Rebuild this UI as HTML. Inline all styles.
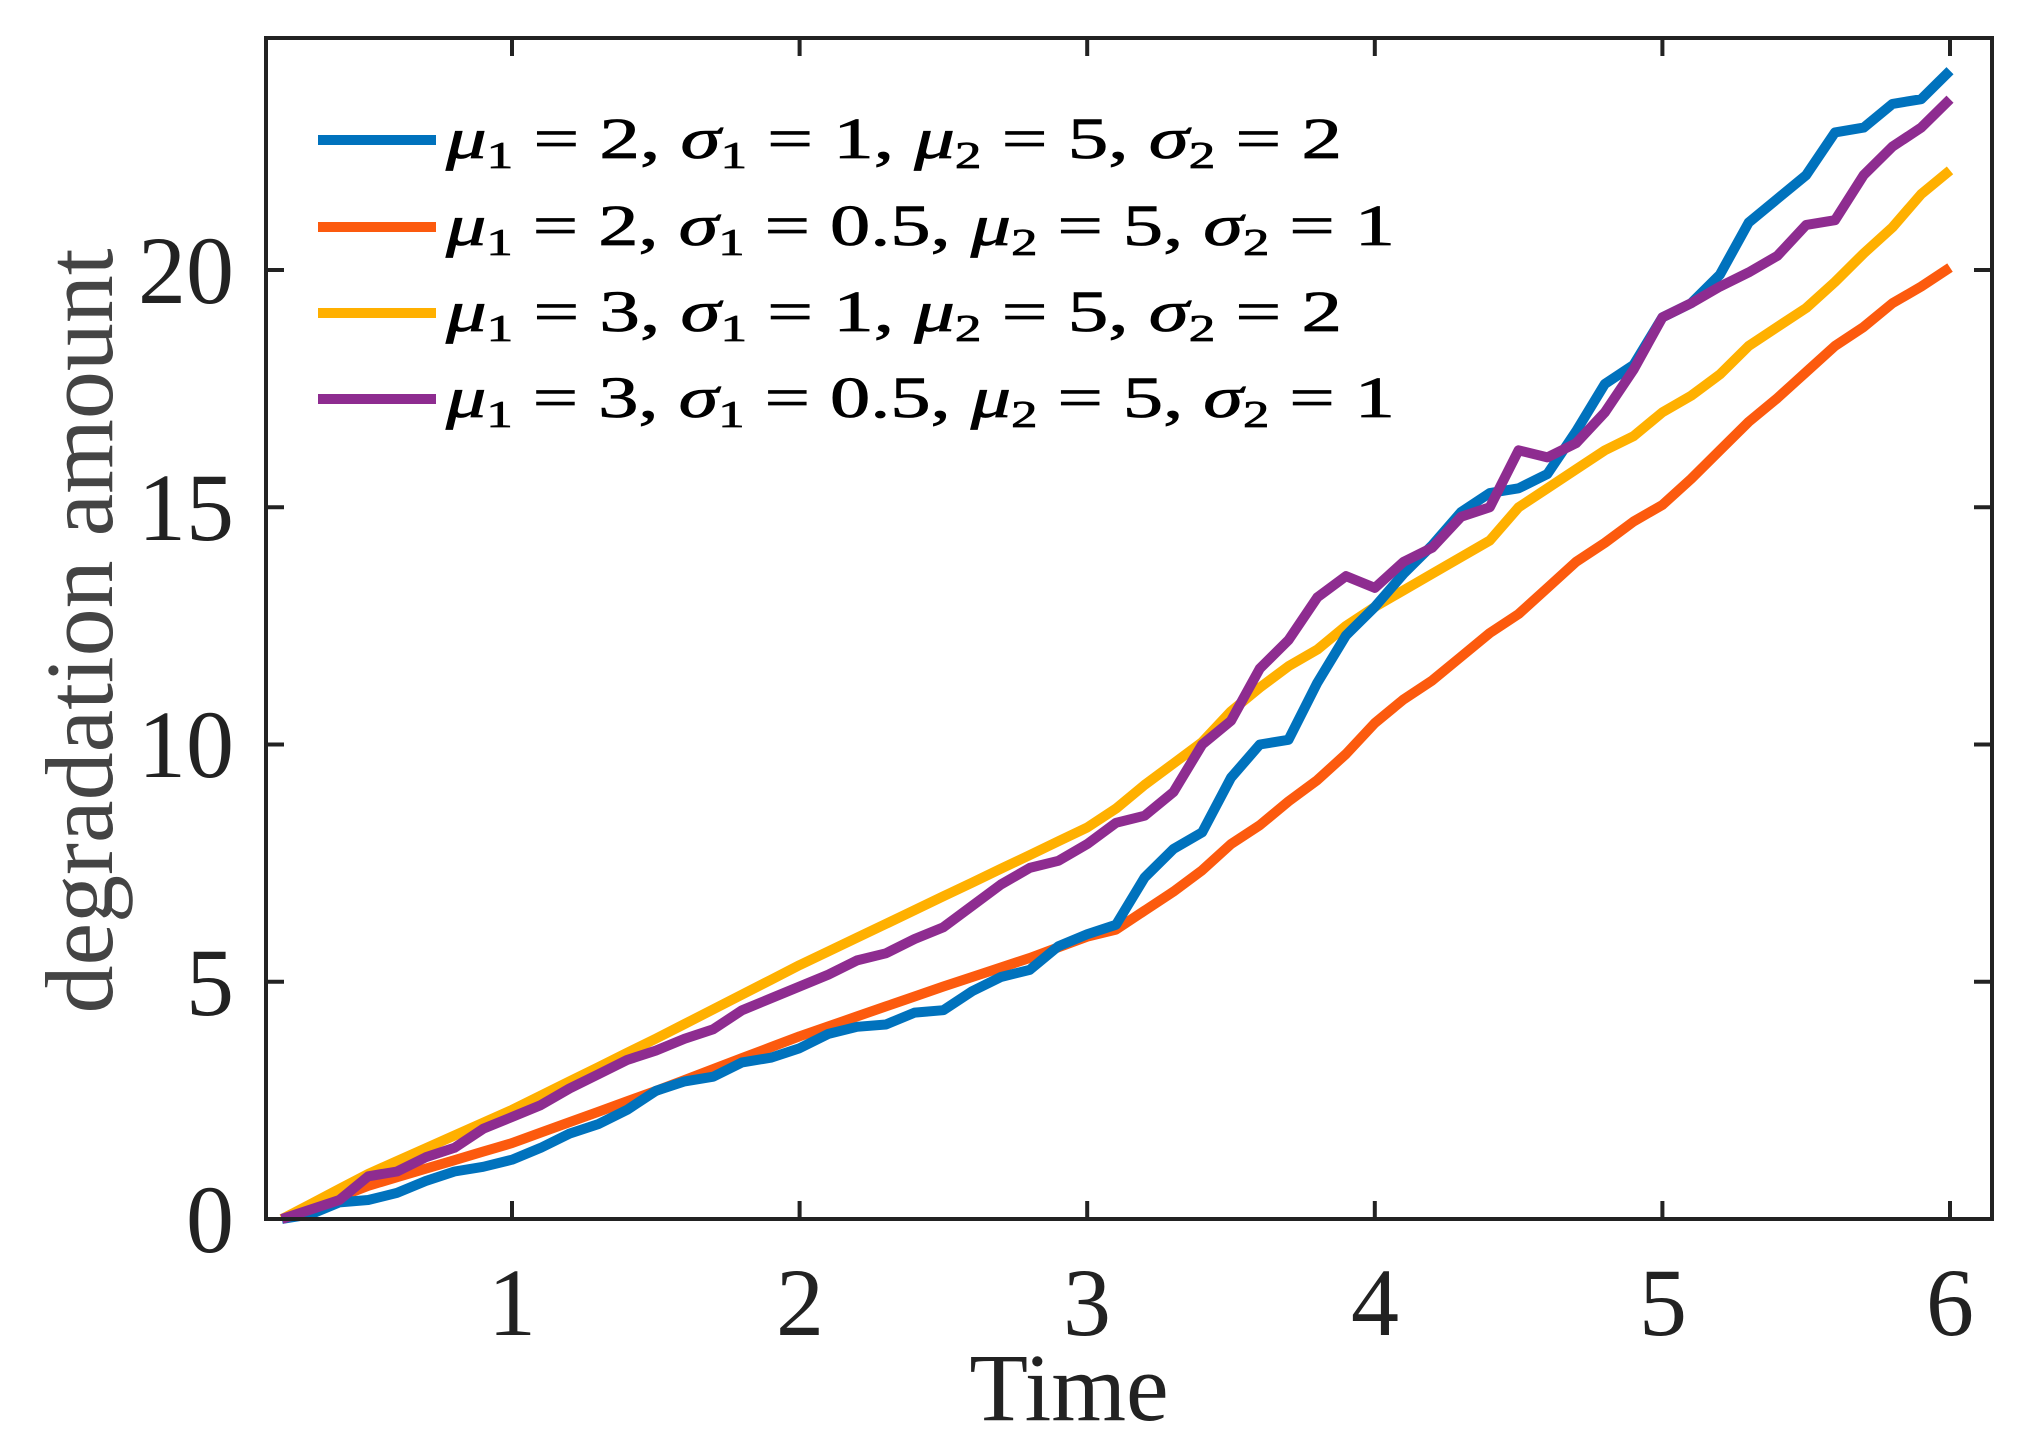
<!DOCTYPE html>
<html><head><meta charset="utf-8"><style>
html,body{margin:0;padding:0;background:#fff;}
svg{display:block;}
.tk{font-family:"Liberation Serif",serif;font-size:96px;fill:#222;}
.lg{font-family:"Liberation Serif",serif;font-size:58px;fill:#000;stroke:#000;stroke-width:0.8px;}
.lg tspan.i{font-style:italic;}
</style></head><body>
<svg id="s" width="2029" height="1452" viewBox="0 0 2029 1452" xmlns="http://www.w3.org/2000/svg">
<rect width="2029" height="1452" fill="#fff"/>
<g id="series" fill="none" stroke-width="10" stroke-linejoin="round"></g>
<rect x="266" y="38" width="1726" height="1181" fill="none" stroke="#222" stroke-width="4"/>
<g stroke="#222" stroke-width="4" id="ticks"></g>
<g class="tk" text-anchor="middle">
<text x="512" y="1335">1</text><text x="800" y="1335">2</text><text x="1087" y="1335">3</text>
<text x="1375" y="1335">4</text><text x="1663" y="1335">5</text><text x="1950" y="1335">6</text>
</g>
<g class="tk" text-anchor="end">
<text x="234" y="1252">0</text><text x="234" y="1015">5</text><text x="234" y="777">10</text>
<text x="234" y="540">15</text><text x="234" y="303">20</text>
</g>
<text class="tk" x="1069" y="1420" text-anchor="middle" font-size="108">Time</text>
<text class="tk" transform="translate(112,631) rotate(-90)" text-anchor="middle" font-size="108" style="fill:#444">degradation amount</text>
<g stroke-width="10">
<line x1="318" y1="140" x2="436" y2="140" stroke="#0072BD"/>
<line x1="318" y1="227" x2="436" y2="227" stroke="#FC5A0E"/>
<line x1="318" y1="313" x2="436" y2="313" stroke="#FFB000"/>
<line x1="318" y1="399" x2="436" y2="399" stroke="#8E2C90"/>
</g>
<text class="lg" x="446" y="158" textLength="896" lengthAdjust="spacingAndGlyphs"><tspan class="i">μ</tspan><tspan font-size="38" dy="10">1</tspan><tspan dy="-10"> = 2, </tspan><tspan class="i">σ</tspan><tspan font-size="38" dy="10">1</tspan><tspan dy="-10"> = 1, </tspan><tspan class="i">μ</tspan><tspan font-size="38" dy="10">2</tspan><tspan dy="-10"> = 5, </tspan><tspan class="i">σ</tspan><tspan font-size="38" dy="10">2</tspan><tspan dy="-10"> = 2</tspan></text>
<text class="lg" x="446" y="245" textLength="949" lengthAdjust="spacingAndGlyphs"><tspan class="i">μ</tspan><tspan font-size="38" dy="10">1</tspan><tspan dy="-10"> = 2, </tspan><tspan class="i">σ</tspan><tspan font-size="38" dy="10">1</tspan><tspan dy="-10"> = 0.5, </tspan><tspan class="i">μ</tspan><tspan font-size="38" dy="10">2</tspan><tspan dy="-10"> = 5, </tspan><tspan class="i">σ</tspan><tspan font-size="38" dy="10">2</tspan><tspan dy="-10"> = 1</tspan></text>
<text class="lg" x="446" y="331" textLength="896" lengthAdjust="spacingAndGlyphs"><tspan class="i">μ</tspan><tspan font-size="38" dy="10">1</tspan><tspan dy="-10"> = 3, </tspan><tspan class="i">σ</tspan><tspan font-size="38" dy="10">1</tspan><tspan dy="-10"> = 1, </tspan><tspan class="i">μ</tspan><tspan font-size="38" dy="10">2</tspan><tspan dy="-10"> = 5, </tspan><tspan class="i">σ</tspan><tspan font-size="38" dy="10">2</tspan><tspan dy="-10"> = 2</tspan></text>
<text class="lg" x="446" y="417" textLength="949" lengthAdjust="spacingAndGlyphs"><tspan class="i">μ</tspan><tspan font-size="38" dy="10">1</tspan><tspan dy="-10"> = 3, </tspan><tspan class="i">σ</tspan><tspan font-size="38" dy="10">1</tspan><tspan dy="-10"> = 0.5, </tspan><tspan class="i">μ</tspan><tspan font-size="38" dy="10">2</tspan><tspan dy="-10"> = 5, </tspan><tspan class="i">σ</tspan><tspan font-size="38" dy="10">2</tspan><tspan dy="-10"> = 1</tspan></text>
</svg>
<script>
var X=function(t){return 512+(t-1)*287.6},Y=function(v){return 1219-v*47.45};
var blue=[0,0.1,0.35,0.4,0.55,0.8,1.0,1.1,1.25,1.5,1.8,2.0,2.3,2.7,2.9,3.0,3.3,3.4,3.6,3.9,4.05,4.1,4.35,4.4,4.8,5.1,5.25,5.75,6.0,6.2,7.2,7.8,8.15,9.3,10.0,10.1,11.3,12.3,12.9,13.6,14.2,14.9,15.3,15.4,15.7,16.6,17.6,18.0,19.0,19.3,19.9,21.0,21.5,22.0,22.9,23.0,23.5,23.6,24.2];
var purple=[0,0.2,0.4,0.9,1.0,1.3,1.5,1.9,2.15,2.4,2.75,3.05,3.35,3.55,3.8,4.0,4.4,4.65,4.9,5.15,5.45,5.6,5.9,6.15,6.6,7.05,7.4,7.55,7.9,8.35,8.5,9.0,10.0,10.5,11.6,12.2,13.1,13.55,13.3,13.85,14.15,14.8,15.0,16.2,16.05,16.35,17.0,17.9,19.0,19.3,19.65,19.95,20.3,20.95,21.05,22.0,22.6,23.0,23.6];
function interp(pts){var r=[];for(var i=0;i<59;i++){var t=0.2+i*0.1;for(var j=0;j<pts.length-1;j++){if(t<=pts[j+1][0]+1e-9){var a=pts[j],b=pts[j+1];r.push(a[1]+(b[1]-a[1])*(t-a[0])/(b[0]-a[0]));break;}}}return r;}
var yellow=interp([[0.2,0],[0.5,0.95],[1,2.3],[1.5,3.8],[2,5.35],[2.5,6.8],[3,8.25],[3.1,8.65],[3.2,9.15],[3.3,9.6],[3.4,10.05],[3.5,10.7],[3.6,11.2],[3.7,11.65],[3.8,12.0],[3.9,12.5],[4,12.9],[4.2,13.6],[4.4,14.3],[4.5,15.0],[4.6,15.4],[4.8,16.2],[4.9,16.5],[5,17.0],[5.1,17.35],[5.2,17.8],[5.3,18.4],[5.4,18.8],[5.5,19.2],[5.6,19.75],[5.7,20.35],[5.8,20.9],[5.9,21.6],[6,22.1]]);
var orange=interp([[0.2,0],[0.5,0.7],[1,1.6],[1.5,2.7],[2,3.85],[2.5,4.9],[2.8,5.5],[3,5.95],[3.1,6.1],[3.2,6.5],[3.3,6.9],[3.4,7.35],[3.5,7.9],[3.6,8.3],[3.7,8.8],[3.8,9.25],[3.9,9.8],[4.0,10.45],[4.1,10.95],[4.2,11.35],[4.3,11.85],[4.4,12.35],[4.5,12.75],[4.6,13.3],[4.7,13.85],[4.8,14.25],[4.9,14.7],[5.0,15.05],[5.1,15.6],[5.2,16.2],[5.3,16.8],[5.4,17.3],[5.5,17.85],[5.6,18.4],[5.7,18.8],[5.8,19.3],[5.9,19.65],[6.0,20.05]]);
var g=document.getElementById('series'),ns="http://www.w3.org/2000/svg";
[[orange,"#FC5A0E"],[yellow,"#FFB000"],[blue,"#0072BD"],[purple,"#8E2C90"]].forEach(function(s){
var p=[];s[0].forEach(function(v,i){p.push(X(0.2+i*0.1).toFixed(1)+","+Y(v).toFixed(1));});
var e=document.createElementNS(ns,"polyline");e.setAttribute("points",p.join(" "));e.setAttribute("stroke",s[1]);g.appendChild(e);});
var tk=document.getElementById('ticks');
function ln(a,b,c,d){var e=document.createElementNS(ns,"line");e.setAttribute("x1",a);e.setAttribute("y1",b);e.setAttribute("x2",c);e.setAttribute("y2",d);tk.appendChild(e);}
for(var i=1;i<=6;i++){var x=X(i);ln(x,1219,x,1201);ln(x,38,x,56);}
for(var v=0;v<=20;v+=5){var y=Y(v);ln(266,y,284,y);ln(1992,y,1974,y);}
</script>
</body></html>
